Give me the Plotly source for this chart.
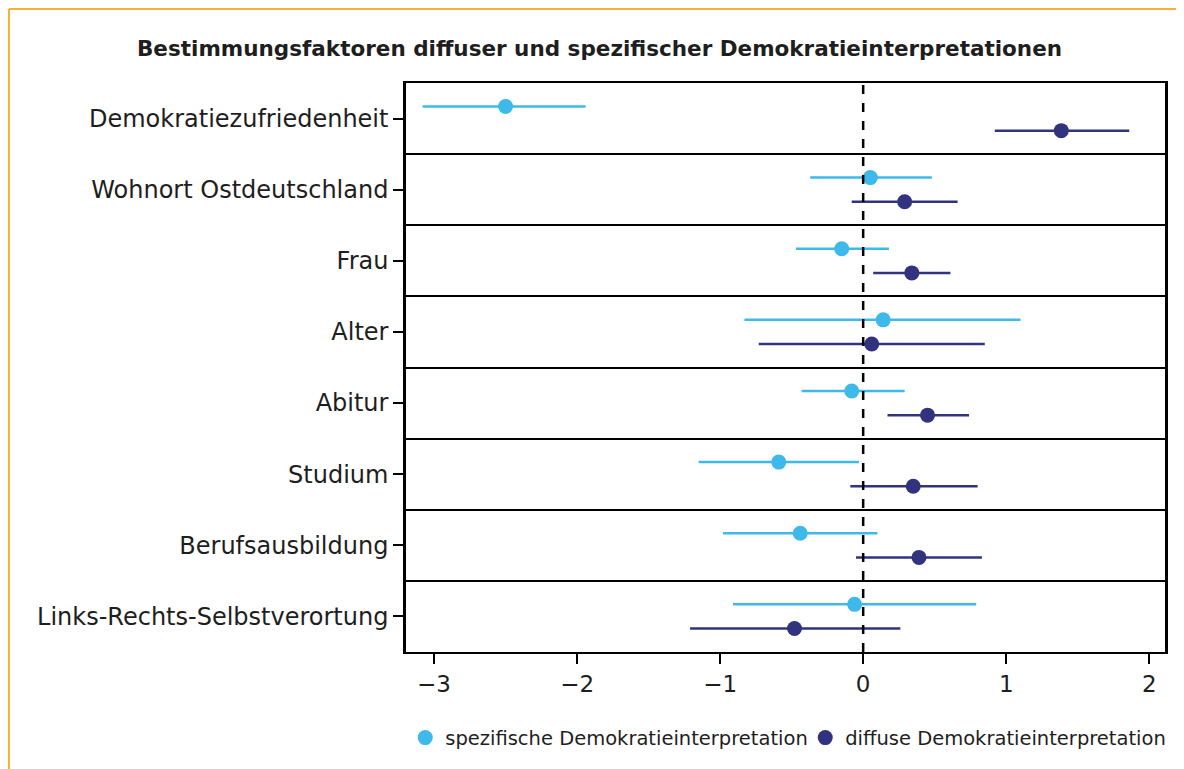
import plotly.graph_objects as go

# --- Data ---
categories = ["Demokratiezufriedenheit", "Wohnort Ostdeutschland", "Frau", "Alter",
              "Abitur", "Studium", "Berufsausbildung", "Links-Rechts-Selbstverortung"]

spez_est = [-2.50, 0.05, -0.15, 0.14, -0.08, -0.59, -0.44, -0.06]
spez_lo = [-3.08, -0.37, -0.47, -0.83, -0.43, -1.15, -0.98, -0.91]
spez_hi = [-1.94, 0.48, 0.18, 1.10, 0.29, -0.03, 0.10, 0.79]

diff_est = [1.385, 0.29, 0.34, 0.06, 0.45, 0.35, 0.39, -0.48]
diff_lo = [0.92, -0.08, 0.07, -0.73, 0.17, -0.09, -0.05, -1.21]
diff_hi = [1.86, 0.66, 0.61, 0.85, 0.74, 0.80, 0.83, 0.26]

light = "#3DB9EA"
dark = "#31337E"
font = "DejaVu Sans"

rows = list(range(len(categories)))

fig = go.Figure()
fig.add_trace(go.Scatter(
    x=spez_est, y=[r - 0.17 for r in rows], mode="markers",
    name="spezifische Demokratieinterpretation",
    marker=dict(color=light, size=15),
    error_x=dict(type="data", symmetric=False,
                 array=[h - e for h, e in zip(spez_hi, spez_est)],
                 arrayminus=[e - l for e, l in zip(spez_est, spez_lo)],
                 color=light, thickness=2.5, width=0),
))
fig.add_trace(go.Scatter(
    x=diff_est, y=[r + 0.17 for r in rows], mode="markers",
    name="diffuse Demokratieinterpretation",
    marker=dict(color=dark, size=15),
    error_x=dict(type="data", symmetric=False,
                 array=[h - e for h, e in zip(diff_hi, diff_est)],
                 arrayminus=[e - l for e, l in zip(diff_est, diff_lo)],
                 color=dark, thickness=2.5, width=0),
))

# zero reference line
fig.add_shape(type="line", x0=0, x1=0, y0=0, y1=1, xref="x", yref="paper",
              line=dict(color="black", width=2.5, dash="dash"))

# orange frame (left and top edges)
fig.add_shape(type="line", xref="paper", yref="paper", x0=-0.5231, x1=-0.5231, y0=-0.4, y1=1.1300,
              line=dict(color="#F7B233", width=2))
fig.add_shape(type="line", xref="paper", yref="paper", x0=-0.5231, x1=1.2, y0=1.1300, y1=1.1300,
              line=dict(color="#F7B233", width=2))

# page body adds an 8px offset, so the figure is 8px smaller on each side
fig.update_layout(
    width=1176, height=761,
    margin=dict(l=398, r=19, t=75, b=117, autoexpand=False),
    paper_bgcolor="white", plot_bgcolor="white",
    font=dict(family=font, color="#1e1e1e"),
    title=dict(text="<b>Bestimmungsfaktoren diffuser und spezifischer Demokratieinterpretationen</b>",
               x=0.503, xanchor="center", y=0.947, yanchor="middle",
               font=dict(size=21.5, color="#1e1e1e")),
    showlegend=True,
    # x just left of the plot area so the legend may use the full row width
    legend=dict(orientation="h", x=-0.001, xanchor="left", y=-0.151, yanchor="middle",
                font=dict(size=19.5), itemwidth=30, tracegroupgap=0,
                entrywidth=355, entrywidthmode="pixels"),
)
fig.update_xaxes(
    range=[-3.196, 2.11], tickvals=[-3, -2, -1, 0, 1, 2],
    ticktext=["\u22123", "\u22122", "\u22121", "0", "1", "2"],
    showgrid=False, zeroline=False,
    showline=True, linecolor="black", linewidth=2, mirror=True,
    ticks="outside", ticklen=10, tickwidth=1.5, tickcolor="black",
    tickfont=dict(size=23),
)
fig.update_yaxes(
    range=[7.5, -0.5], tickvals=rows, ticktext=categories,
    showgrid=False, zeroline=False,
    showline=True, linecolor="black", linewidth=2.5, mirror=True,
    ticks="outside", ticklen=10, tickwidth=1.5, tickcolor="black",
    tickfont=dict(size=24),
    minor=dict(tickvals=[r + 0.5 for r in rows[:-1]], showgrid=True,
               gridcolor="black", gridwidth=1.5, ticks=""),
)

fig.write_html("out.html")
